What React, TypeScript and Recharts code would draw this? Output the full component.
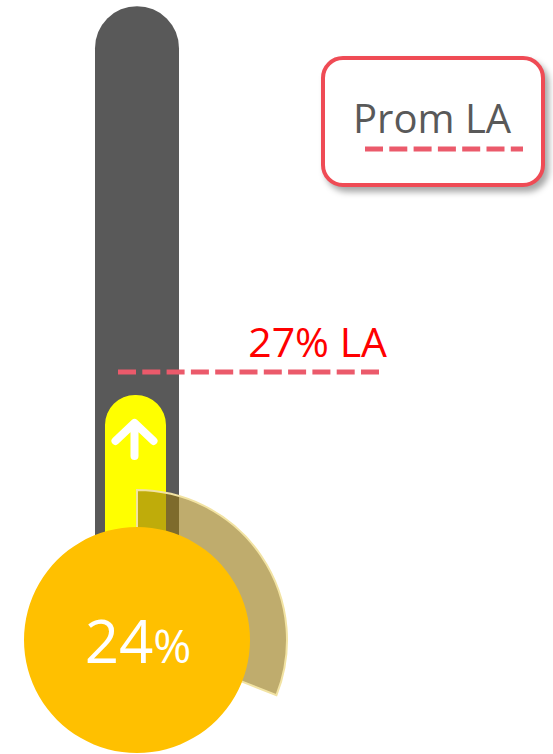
import React from "react";
import { BarChart, Bar, XAxis, YAxis, ReferenceLine, LabelList, PieChart, Pie, Cell, Legend } from "recharts";

const categories = ["LA"];
const tubeValues = [74.7];
const actualValues = [24];
const avgValue = 27;
const avgLabel = "27% LA";
const legendLabel = "Prom LA";
const arcValues = [31, 69];
const centerValue = "24";

const W = 553;
const H = 754;
const FONT = "'Open Sans', 'Noto Sans', sans-serif";
// horizontal extent of the average line, in px
const LINE_X1 = 118;
const LINE_X2 = 383;

const data = categories.map((name, i) => ({ name, tube: tubeValues[i], actual: actualValues[i] }));
const arcData = arcValues.map((value, i) => ({ name: i === 0 ? "arc" : "rest", value }));
const discData = [{ name: "disc", value: 1 }];

function Arrow(props: any) {
  const { x, y, width } = props;
  const cx = x + width / 2 - 1;
  return (
    <path
      d={`M${cx - 19} ${y + 46} L${cx} ${y + 28} L${cx + 19} ${y + 46} M${cx} ${y + 29} V${y + 61}`}
      stroke="#fff"
      strokeWidth={8}
      strokeLinecap="round"
      strokeLinejoin="round"
      fill="none"
    />
  );
}

function AvgLine(props: any) {
  const y = props.y1;
  return (
    <line
      x1={LINE_X1}
      x2={LINE_X2}
      y1={y}
      y2={y}
      stroke="#EB5A6B"
      strokeWidth={5}
      strokeDasharray="18 6.3"
    />
  );
}

function AvgLabel(props: any) {
  const vb = props.viewBox || {};
  return (
    <text x={LINE_X2 + 4} y={vb.y - 15} textAnchor="end" fill="#FF0000" fontSize={41} fontFamily={FONT}>
      {avgLabel}
    </text>
  );
}

function renderCenter(p: any) {
  return (
    <text x={p.cx + 1} y={p.cy + 23} textAnchor="middle" fill="#fff" fontFamily={FONT}>
      <tspan fontSize={60}>{centerValue}</tspan>
      <tspan fontSize={46}>%</tspan>
    </text>
  );
}

function LegendBox() {
  return (
    <div
      style={{
        boxSizing: "border-box",
        width: 224,
        height: 131,
        border: "4px solid #EF4B55",
        borderRadius: 22,
        background: "#fff",
        boxShadow: "4px 5px 6px rgba(0,0,0,0.35)",
      }}
    >
      <svg width={216} height={123} style={{ display: "block" }}>
        <text x={28} y={73} fill="#595959" fontSize={40} fontFamily={FONT}>
          {legendLabel}
        </text>
        <line x1={40} x2={198} y1={89} y2={89} stroke="#EB5A6B" strokeWidth={5} strokeDasharray="18 6.3" />
      </svg>
    </div>
  );
}

export default function App() {
  return (
    <div style={{ position: "absolute", left: 0, top: 0, width: W, height: H, background: "#fff" }}>
      <div style={{ position: "absolute", left: 0, top: 0 }}>
        <BarChart width={W} height={H} data={data} margin={{ top: 0, right: 0, bottom: 175, left: 0 }}>
          <YAxis hide type="number" domain={[0, 75.5]} />
          <XAxis hide xAxisId="bg" dataKey="name" padding={{ left: 0, right: 279 }} />
          <XAxis hide xAxisId="fg" dataKey="name" padding={{ left: 0, right: 282 }} />
          <Bar xAxisId="bg" dataKey="tube" barSize={84} fill="#595959" radius={[42, 42, 0, 0]} isAnimationActive={false} />
          <Bar xAxisId="fg" dataKey="actual" barSize={61} fill="#FFFF00" radius={[30, 30, 0, 0]} isAnimationActive={false}>
            <LabelList dataKey="actual" content={<Arrow />} />
          </Bar>
          <ReferenceLine
            xAxisId="bg"
            y={avgValue}
            shape={<AvgLine />}
            label={<AvgLabel />}
          />
        </BarChart>
      </div>
      <div style={{ position: "absolute", left: 0, top: 0 }}>
        <PieChart width={W} height={H} margin={{ top: 0, right: 0, bottom: 0, left: 0 }}>
          <Legend
            layout="horizontal"
            verticalAlign="middle"
            align="right"
            content={<LegendBox />}
            wrapperStyle={{ left: 321, top: 56, width: 224, height: 131, right: "auto", bottom: "auto" }}
          />
          <Pie
            data={arcData}
            dataKey="value"
            cx={137}
            cy={640}
            innerRadius={100}
            outerRadius={150}
            startAngle={90}
            endAngle={-270}
            isAnimationActive={false}
          >
            <Cell fill="#967811" fillOpacity={0.61} stroke="#F2E3A3" strokeWidth={2} />
            <Cell fill="none" stroke="none" />
          </Pie>
          <Pie
            data={discData}
            dataKey="value"
            cx={137}
            cy={640}
            innerRadius={0}
            outerRadius={113}
            startAngle={90}
            endAngle={-270}
            fill="#FFC000"
            stroke="none"
            label={renderCenter}
            labelLine={false}
            isAnimationActive={false}
          >
            <Cell fill="#FFC000" stroke="none" />
          </Pie>
        </PieChart>
      </div>
    </div>
  );
}
